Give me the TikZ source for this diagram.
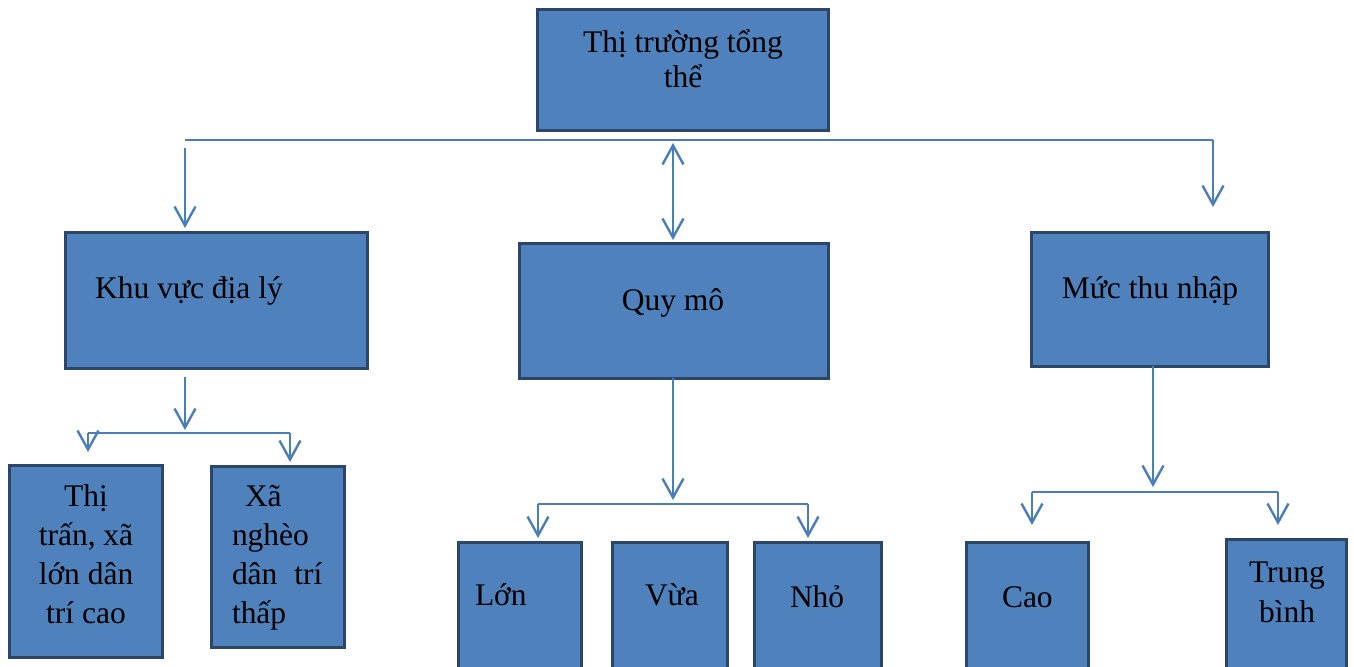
\documentclass[tikz,border=0pt]{standalone}
\usepackage{fontspec}
\setmainfont{Liberation Serif}
\usetikzlibrary{arrows.meta}
\definecolor{boxfill}{RGB}{79,129,189}
\definecolor{boxline}{RGB}{44,70,106}
\definecolor{connc}{RGB}{74,126,187}
\begin{document}
\begin{tikzpicture}[x=1bp,y=-1bp,
  box/.style={draw=boxline,fill=boxfill,line width=3bp,inner sep=0pt,outer sep=0pt},
  txt/.style={font=\fontsize{31.6}{39}\selectfont,inner sep=0pt,outer sep=0pt,text=black},
  vtip/.style={-{Straight Barb[length=19bp,width=21bp,line width=2.4bp]}},
  conn/.style={draw=connc,line width=2.4bp},
  thin/.style={draw=connc,line width=2bp}]
\clip (0,0) rectangle (1354,667);
\fill[white] (0,0) rectangle (1354,667);
% boxes
\node[box,minimum width=291bp,minimum height=120bp] (top) at (682.5,70) {};
\node[box,minimum width=301bp,minimum height=136bp] (kv) at (216.5,300) {};
\node[box,minimum width=309bp,minimum height=135bp] (qm) at (673.5,310.5) {};
\node[box,minimum width=237bp,minimum height=134bp] (mt) at (1149.5,299) {};
\node[box,minimum width=152bp,minimum height=192bp] (tt) at (86,561) {};
\node[box,minimum width=133bp,minimum height=181bp] (xn) at (277.5,556.5) {};
\node[box,minimum width=123bp,minimum height=158bp] (lon) at (519.5,621) {};
\node[box,minimum width=115bp,minimum height=158bp] (vua) at (669.5,621) {};
\node[box,minimum width=127bp,minimum height=158bp] (nho) at (817.5,621) {};
\node[box,minimum width=122bp,minimum height=158bp] (cao) at (1027,621) {};
\node[box,minimum width=120bp,minimum height=161bp] (tbh) at (1286,619.5) {};
% texts (base anchor = baseline of the last line)
\node[txt,anchor=base,align=center] (ttop) at (683,88) {Thị trường tổng\\[-3bp]thể};
\node[txt,anchor=base] (tkv) at (189,298) {Khu vực địa lý};
\node[txt,anchor=base] (tqm) at (673,310) {Quy mô};
\node[txt,anchor=base] (tmt) at (1150,298) {Mức thu nhập};
\node[txt,anchor=base,align=center] (ttt) at (86,623) {Thị\\trấn, xã\\lớn dân\\trí cao};
\node[txt,anchor=base west,align=left] (txn) at (232,623) {\hspace{13bp}Xã\\nghèo\\dân\hspace{17bp}trí\\thấp};
\node[txt,anchor=base west] (tlon) at (475,605) {Lớn};
\node[txt,anchor=base west] (tvua) at (645,605) {Vừa};
\node[txt,anchor=base west] (tnho) at (790,607) {Nhỏ};
\node[txt,anchor=base west] (tcao) at (1002,607) {Cao};
\node[txt,anchor=base,align=center] (ttbh) at (1287,622) {Trung\\[1bp]bình};
% coordinates
\coordinate (hl) at (185,140);
\coordinate (hr) at (1213,140);
\coordinate (hra) at (1213,207);
\coordinate (la0) at (185,148);
\coordinate (la1) at (185,228);
\coordinate (ma0) at (673,143);
\coordinate (ma1) at (673,240);
\coordinate (k0) at (185,377);
\coordinate (k1) at (185,430);
\coordinate (kl) at (88,433);
\coordinate (kla) at (88,452);
\coordinate (kr) at (290,433);
\coordinate (kra) at (290,462);
\coordinate (q1) at (673,500);
\coordinate (ql) at (538,504);
\coordinate (qla) at (538,538);
\coordinate (qr) at (808,504);
\coordinate (qra) at (808,538);
\coordinate (m1) at (1153,487);
\coordinate (ml) at (1032,492);
\coordinate (mla) at (1032,525);
\coordinate (mr) at (1278,492);
\coordinate (mra) at (1278,525);
% connectors
\draw[thin] (hl) -- (hr);
\draw[conn,vtip] (hr) -- (hra);
\draw[conn,vtip] (la0) -- (la1);
\draw[conn,{Straight Barb[length=19bp,width=21bp,line width=2.4bp]}-{Straight Barb[length=19bp,width=21bp,line width=2.4bp]}] (ma0) -- (ma1);
\draw[conn,vtip] (k0) -- (k1);
\draw[thin] (kl) -- (kr);
\draw[conn,vtip] (kl) -- (kla);
\draw[conn,vtip] (kr) -- (kra);
\draw[conn,vtip] (qm.south -| q1) -- (q1);
\draw[thin] (ql) -- (qr);
\draw[conn,vtip] (ql) -- (qla);
\draw[conn,vtip] (qr) -- (qra);
\draw[conn,vtip] (mt.south -| m1) -- (m1);
\draw[thin] (ml) -- (mr);
\draw[conn,vtip] (ml) -- (mla);
\draw[conn,vtip] (mr) -- (mra);
\end{tikzpicture}
\end{document}
